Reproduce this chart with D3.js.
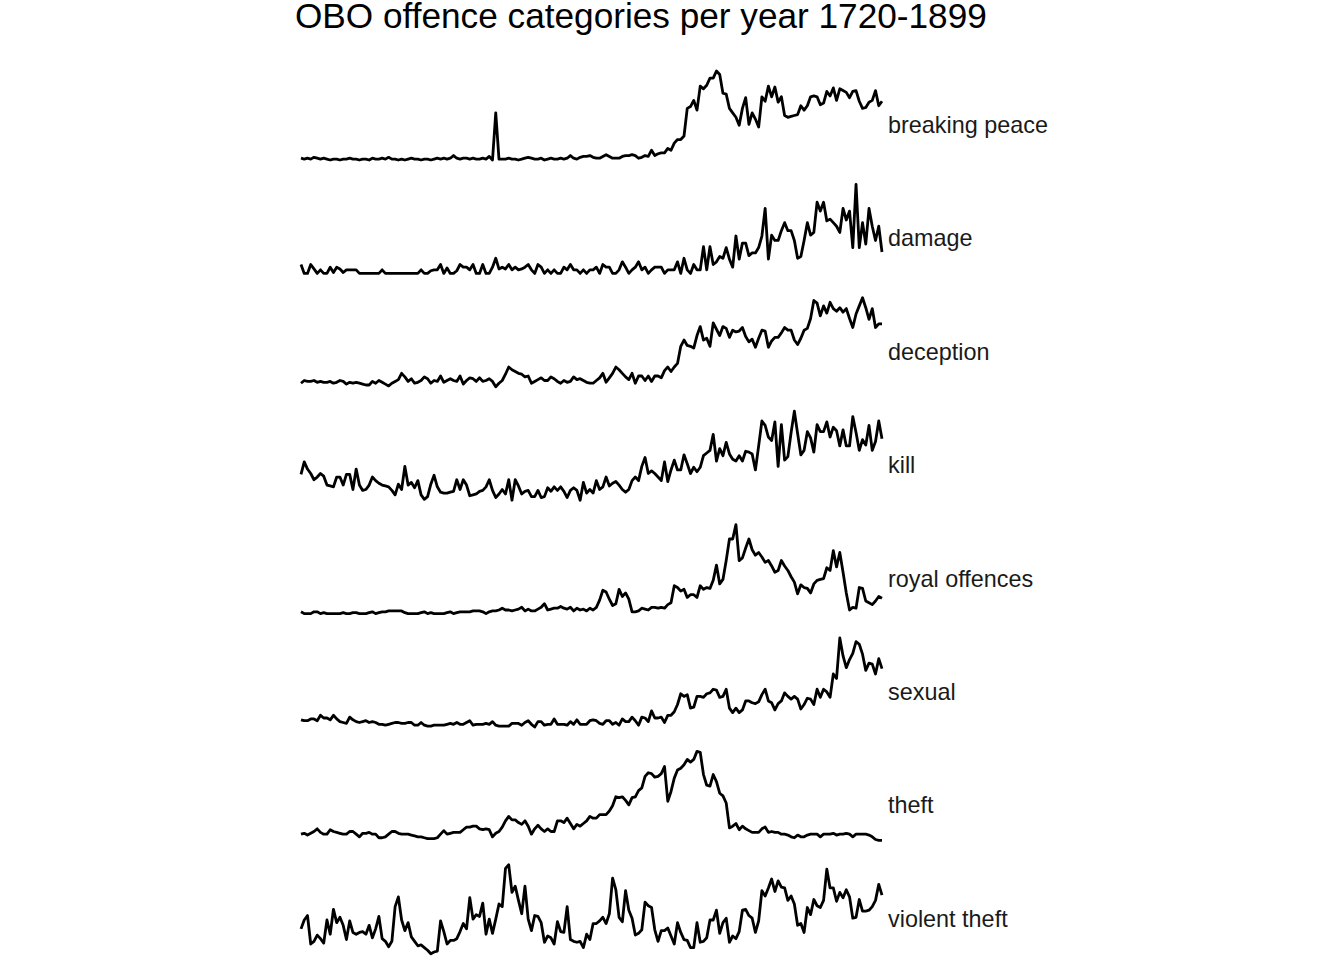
<!DOCTYPE html>
<html>
<head>
<meta charset="utf-8">
<script src="https://cdn.jsdelivr.net/npm/d3@7"></script>
<style>
  html, body { margin: 0; padding: 0; background: #ffffff; }
  svg { display: block; }
</style>
</head>
<body>
<svg id="chart" width="1344" height="960"></svg>
<script>
const years = d3.range(1720, 1900);
const categories = ["breaking peace", "damage", "deception", "kill", "royal offences", "sexual", "theft", "violent theft"];

const breakingPeace = [2,1,2,1,3,2,1,2,1,0, 1,1,0,1,1,2,1,1,0,1, 1,0,2,1,1,2,1,3,1,1, 0,1,0,1,2,1,1,0,1,1,
  0,1,2,1,2,1,2,5,2,1, 2,2,1,2,1,1,2,1,4,0, 53,1,1,1,2,1,1,0,1,2, 3,2,1,1,2,0,1,2,1,1, 2,1,2,5,2,1,3,4,
  4,5,3,2,2,4,6,4,2,2, 2,4,5,5,6,5,2,3,5,4, 11,5,7,8,8,13,11,19,23,23, 27,58,60,67,56,83,80,84,92,92,
  100,96,75,74,58,53,48,39,58,70, 40,53,46,37,71,66,83,71,82,65, 71,50,48,49,50,51,61,56,61,71,
  72,71,62,64,77,72,81,67,80,78, 76,70,77,78,66,58,59,65,67,78, 61,66];
const damage = [10,0,0,10,5,0,4,0,0,7, 1,7,5,1,4,4,4,4,0,0, 0,0,0,0,0,4,0,0,0,0, 0,0,0,0,0,0,0,4,0,0,
  3,4,4,10,0,6,0,0,3,10, 7,7,4,10,0,0,10,0,0,7, 17,5,7,5,10,4,7,4,5,7, 10,4,0,10,7,0,4,0,4,0,
  0,7,4,10,4,4,0,4,0,4, 4,7,0,10,7,7,0,0,4,13, 7,0,4,7,13,4,7,0,4,7, 7,7,0,4,4,4,13,0,17,4,
  0,10,4,4,30,4,30,10,13,19, 17,29,16,7,42,16,34,34,20,23, 23,29,42,73,16,43,37,37,48,57,
  48,48,37,17,19,37,57,43,46,80, 70,80,59,61,57,53,46,73,60,70, 29,100,29,57,33,73,53,37,53,24];
const deception = [4,7,6,6,7,5,6,5,5,6, 4,5,7,6,3,5,4,5,4,3, 2,2,6,4,7,5,3,1,4,6, 8,15,11,6,9,4,5,7,11,9,
  4,7,6,12,5,7,9,7,6,12, 3,7,10,9,6,10,6,7,9,6, 0,4,7,14,22,19,17,15,14,11, 12,4,6,8,10,7,7,11,9,6,
  4,7,5,6,11,8,9,7,5,4, 4,7,10,15,5,10,15,22,19,15, 11,8,15,4,12,12,7,12,6,12, 12,10,18,22,17,22,26,45,52,46,
  45,43,57,67,52,54,45,71,64,57, 67,65,55,63,61,62,66,56,50,53, 44,54,63,62,44,51,55,55,60,66,
  63,63,52,47,54,63,65,76,96,93, 79,90,82,94,87,84,88,83,87,76, 66,81,90,99,88,75,87,66,70,70];
const kill = [29,43,35,30,23,26,30,27,17,16, 15,26,26,17,29,29,12,35,17,11, 12,17,26,22,19,17,16,15,11,6,
  18,12,38,17,20,14,22,6,1,4, 18,28,15,9,8,8,9,10,23,12, 23,17,5,6,7,10,11,15,23,11,
  3,7,12,7,23,0,23,16,7,10, 11,4,4,11,3,4,14,10,15,11, 15,10,3,11,14,11,0,20,8,12,
  8,22,12,15,26,16,19,21,17,12, 9,12,22,26,22,38,48,30,33,30, 26,22,43,21,34,45,34,34,51,41,
  30,37,32,37,50,53,56,74,44,58, 50,65,52,46,44,50,44,55,54,52, 34,61,89,84,71,67,88,38,85,45,
  49,76,100,75,51,56,77,70,54,85, 77,77,88,71,82,78,61,79,61,61, 94,76,56,68,62,84,56,66,89,69];
const royalOffences = [3,1,1,1,3,3,1,2,1,1, 1,1,1,2,1,1,2,2,1,1, 1,2,3,1,2,3,3,4,4,4, 4,4,2,1,1,1,1,2,3,1,
  2,1,1,1,1,2,3,1,2,3, 3,3,3,4,4,4,3,1,3,4, 4,5,7,5,5,4,5,6,8,4, 6,4,4,6,8,12,5,6,7,7,
  9,7,6,8,4,7,5,6,4,7, 5,8,16,27,25,17,10,12,28,20, 24,17,3,3,4,7,6,5,8,8, 7,8,7,11,13,32,30,26,28,19,
  22,22,19,32,28,30,29,38,55,34, 39,60,84,84,100,60,63,74,84,72, 66,69,64,58,60,54,47,49,60,54,
  49,42,36,23,33,30,29,24,34,38, 39,40,52,49,71,53,69,47,24,5, 8,7,30,29,15,13,11,15,20,18];
const sexual = [9,8,8,10,10,8,14,11,11,9, 14,10,7,6,5,12,9,7,6,7, 8,6,7,6,4,4,3,4,5,6, 6,5,5,6,6,3,3,6,3,2,
  2,3,3,3,3,4,5,4,6,4, 4,6,8,3,4,4,4,5,4,7, 3,2,2,2,2,5,5,5,3,6, 8,4,1,7,7,3,4,4,10,4,
  4,4,3,7,4,9,4,4,4,8, 9,8,5,4,8,8,4,6,3,10, 7,7,12,8,3,12,11,7,19,11, 11,12,6,14,14,18,26,38,35,37,
  22,23,35,35,34,38,39,43,42,34, 35,43,22,17,22,17,20,30,30,28, 27,29,37,43,30,28,20,27,30,39,
  35,32,35,32,21,26,33,32,26,43, 34,43,40,34,60,55,100,80,67,76, 83,96,93,82,64,72,71,60,77,66];
const theft = [7,8,6,8,10,13,9,7,7,12, 10,9,8,7,7,10,10,7,4,8, 8,9,7,7,3,3,4,7,10,10, 8,7,7,7,6,5,4,4,3,2,
  2,2,3,7,11,7,8,9,9,9, 12,15,15,16,16,13,12,13,12,4, 8,10,15,22,27,23,23,20,18,22, 16,7,13,17,13,10,13,10,10,22,
  22,20,25,19,13,18,16,19,22,27, 25,25,29,29,29,33,39,49,48,49, 45,40,48,49,56,59,72,76,75,71, 72,75,83,44,55,70,79,81,85,91,
  88,91,100,99,74,62,61,74,66,53, 50,42,14,16,19,12,16,13,11,9, 9,9,13,15,9,10,9,9,7,7,
  6,4,3,6,4,4,6,7,7,7, 4,7,7,7,8,6,7,7,8,7, 4,7,7,7,7,6,4,1,0,0];
const violentTheft = [28,38,43,11,14,21,17,12,38,22, 50,35,41,32,16,37,24,22,24,25, 22,32,18,28,42,17,14,8,14,53,
  64,38,26,35,19,14,9,10,7,4, 0,2,3,37,25,11,15,15,17,25, 34,28,63,39,44,42,57,22,39,23,
  39,56,53,96,100,69,76,60,45,76, 39,26,43,42,35,13,20,18,11,36, 25,24,53,16,14,13,14,7,22,16,
  34,34,37,41,34,45,85,72,41,36, 71,49,40,21,23,27,58,54,52,27, 14,26,26,29,20,11,35,24,16,15,
  7,7,35,13,14,18,38,38,49,23, 35,40,13,20,17,25,49,50,43,40, 24,37,71,65,74,84,70,82,75,74,
  60,65,56,32,34,24,52,44,61,54, 52,60,95,74,74,59,69,63,72,64, 40,41,61,48,48,49,53,60,78,66];

const seriesValues = [breakingPeace, damage, deception, kill, royalOffences, sexual, theft, violentTheft];

const svg = d3.select("#chart");
const FONT = "'Liberation Sans', Arial, Helvetica, sans-serif";

svg.append("text")
  .attr("x", 295).attr("y", 28)
  .attr("font-family", FONT).attr("font-size", 35.2)
  .attr("fill", "#000")
  .text("OBO offence categories per year 1720-1899");

const x = d3.scaleLinear().domain([1720, 1899]).range([301, 882]);
const panelTop0 = 71, panelStep = 113.4, panelH = 89;

categories.forEach((cat, i) => {
  const vals = seriesValues[i];
  const top = panelTop0 + panelStep * i;
  const y = d3.scaleLinear().domain(d3.extent(vals)).range([top + panelH, top]);
  const line = d3.line().x((d, j) => x(years[j])).y(d => y(d));
  svg.append("path")
    .datum(vals)
    .attr("d", line)
    .attr("fill", "none")
    .attr("stroke", "#000")
    .attr("stroke-width", 2.8)
    .attr("stroke-linejoin", "round");
  svg.append("text")
    .attr("x", 888).attr("y", top + 62)
    .attr("font-family", FONT).attr("font-size", 23.4)
    .attr("fill", "#1a1a1a")
    .text(cat);
});
</script>
</body>
</html>
